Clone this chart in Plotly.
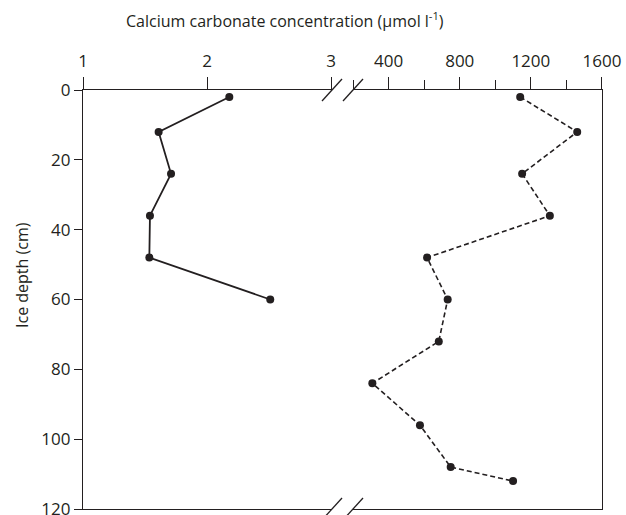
import plotly.graph_objects as go

# Depth profiles (cm) and concentrations
depth_low = [2, 12, 24, 36, 48, 60]
conc_low = [2.18, 1.61, 1.71, 1.54, 1.535, 2.51]

depth_high = [2, 12, 24, 36, 48, 60, 72, 84, 96, 108, 112]
conc_high = [1140, 1461, 1151, 1307, 616, 732, 682, 308, 576, 749, 1100]

y_ticks = [0, 20, 40, 60, 80, 100, 120]
low_ticks = [1, 2, 3]

INK = "#231f20"
FONT = "Open Sans"

W, H = 626, 515
ML, MR, MT, MB = 83, 24, 90, 6
PW, PH = W - ML - MR, H - MT - MB

# split x axis: left panel ends / right panel begins (paper fraction)
D1 = (332 - ML) / PW
D2 = (353 - ML) / PW

fig = go.Figure()

fig.add_trace(go.Scatter(
    x=conc_low, y=depth_low, mode="lines+markers",
    line=dict(color=INK, width=1.8),
    marker=dict(color=INK, size=8),
    xaxis="x", yaxis="y", showlegend=False,
))
fig.add_trace(go.Scatter(
    x=conc_high, y=depth_high, mode="lines+markers",
    line=dict(color=INK, width=1.6, dash="5px,3px"),
    marker=dict(color=INK, size=8),
    xaxis="x2", yaxis="y2", showlegend=False,
))

axis_common = dict(
    showline=True, linecolor=INK, linewidth=1.3, mirror=True,
    ticks="outside", tickcolor=INK, tickwidth=1.3, automargin=False,
    showgrid=False, zeroline=False, ticklabeloverflow="allow",
    ticklabelstandoff=3,
    tickfont=dict(family=FONT, size=17, color=INK),
)

fig.update_layout(
    width=W, height=H,
    margin=dict(l=ML, r=MR, t=MT, b=MB),
    paper_bgcolor="white", plot_bgcolor="white",
    xaxis=dict(
        domain=[0, D1], range=[1, 1 + (332 - ML) / 124], side="top",
        tickmode="array", tickvals=low_ticks, ticklen=12, anchor="y",
        **axis_common,
    ),
    xaxis2=dict(
        domain=[D2, 1], range=[1600 - (602 - 353) / 35.55 * 200, 1600.5], side="top",
        tick0=0, dtick=400, ticklen=12, anchor="y2",
        minor=dict(dtick=200, tick0=0, ticklen=9, ticks="outside", tickcolor=INK, tickwidth=1.3),
        **axis_common,
    ),
    yaxis=dict(
        range=[120, 0], tickmode="array", tickvals=y_ticks, ticklen=8,
        anchor="x", domain=[0, 1], automargin=False,
        showline=True, linecolor=INK, linewidth=1.3,
        ticks="outside", tickcolor=INK, tickwidth=1.3,
        showgrid=False, zeroline=False, ticklabeloverflow="allow",
        tickfont=dict(family=FONT, size=17, color=INK),
    ),
    yaxis2=dict(
        range=[120, 0], anchor="x2", side="right", domain=[0, 1], automargin=False,
        showline=True, linecolor=INK, linewidth=1.3,
        showticklabels=False, ticks="", showgrid=False, zeroline=False,
    ),
)

# axis titles
fig.add_annotation(
    text="Calcium carbonate concentration (µmol l<sup>-1</sup>)",
    xref="paper", yref="paper", x=(285 - ML) / PW, y=(H - MB - 20) / PH,
    xanchor="center", yanchor="middle", showarrow=False,
    font=dict(family=FONT, size=16, color=INK),
)
fig.add_annotation(
    text="Ice depth (cm)", textangle=-90,
    xref="paper", yref="paper", x=(22 - ML) / PW, y=(H - MB - 275) / PH,
    xanchor="center", yanchor="middle", showarrow=False,
    font=dict(family=FONT, size=16, color=INK),
)

# break marks on the top and bottom axis lines
def px_to_paper(px, py):
    return (px - ML) / PW, (H - MB - py) / PH

for cy in (MT, H - MB):
    for cx in (332, 353):
        x0, y0 = px_to_paper(cx - 10, cy + 11)
        x1, y1 = px_to_paper(cx + 10, cy - 11)
        fig.add_shape(type="line", xref="paper", yref="paper",
                      x0=x0, y0=y0, x1=x1, y1=y1,
                      line=dict(color=INK, width=1.3))

fig.write_html("out.html")
